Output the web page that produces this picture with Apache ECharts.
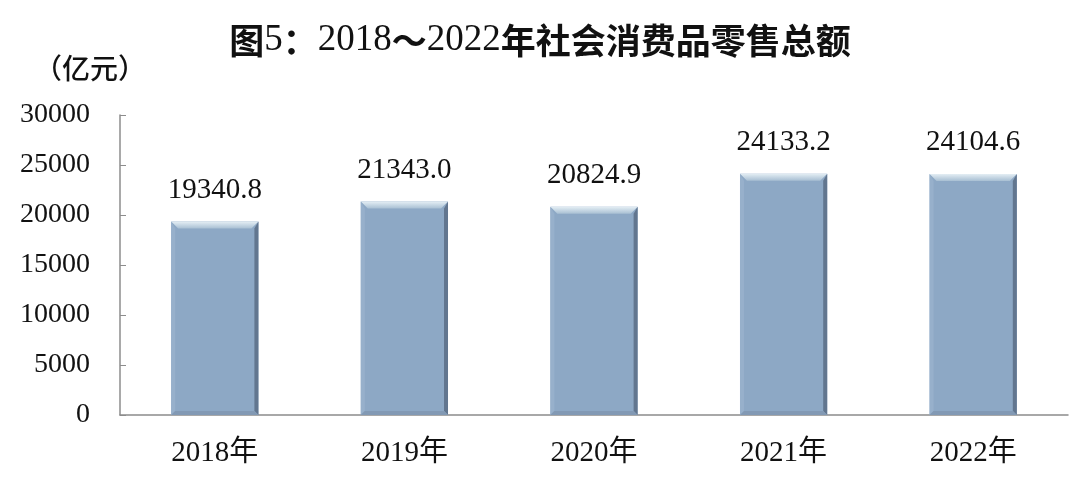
<!DOCTYPE html>
<html>
<head>
<meta charset="utf-8">
<script src="https://cdn.jsdelivr.net/npm/echarts@6/dist/echarts.min.js"></script>
<style>
  html, body { margin: 0; padding: 0; background: #fff; }
  #chart { width: 1080px; height: 496px; }
</style>
</head>
<body>
<div id="chart"></div>
<script>
// 年份和社会消费品零售总额（亿元）
var years = ['2018年', '2019年', '2020年', '2021年', '2022年'];
var sales = [19340.8, 21343.0, 20824.9, 24133.2, 24104.6];
var yTicks = [0, 5000, 10000, 15000, 20000, 25000, 30000];

var serif = "'Liberation Serif', 'Times New Roman', 'Noto Sans CJK SC', serif";
var cjk = "'Noto Sans CJK SC', sans-serif";

// 带斜面效果的柱子
function renderBar(params, api) {
    var top = api.coord([api.value(0), api.value(1)]);
    var base = api.coord([api.value(0), 0]);
    var w = api.size([1, 0])[0] * 0.46;
    var x0 = top[0] - w / 2, x1 = top[0] + w / 2;
    var y0 = top[1], y1 = base[1];
    var b = 7, s = 4;
    return {
        type: 'group',
        children: [
            {
                type: 'rect',
                shape: {x: x0, y: y0, width: w, height: y1 - y0},
                style: {fill: '#8da8c5'}
            },
            {   // 右侧暗边
                type: 'polygon',
                shape: {points: [[x1, y0], [x1, y1], [x1 - s, y1 - s], [x1 - s, y0 + b]]},
                style: {fill: '#62768f'}
            },
            {   // 左侧亮边
                type: 'polygon',
                shape: {points: [[x0, y0], [x0, y1], [x0 + s, y1 - s], [x0 + s, y0 + b]]},
                style: {fill: '#97b0cb'}
            },
            {   // 底部
                type: 'polygon',
                shape: {points: [[x0, y1], [x1, y1], [x1 - s, y1 - s], [x0 + s, y1 - s]]},
                style: {fill: '#8299b4'}
            },
            {   // 顶部斜面
                type: 'polygon',
                shape: {points: [[x0, y0], [x1, y0], [x1 - b, y0 + b], [x0 + b, y0 + b]]},
                style: {
                    fill: new echarts.graphic.LinearGradient(0, 0, 0, 1, [
                        {offset: 0, color: '#e4eef4'},
                        {offset: 1, color: '#a8bfd3'}
                    ])
                }
            },
            {
                type: 'text',
                style: {
                    text: api.value(1).toFixed(1),
                    x: top[0],
                    y: y0 - 17,
                    align: 'center',
                    verticalAlign: 'bottom',
                    font: '29px ' + serif,
                    fill: '#111'
                }
            }
        ]
    };
}

var chart = echarts.init(document.getElementById('chart'));
chart.setOption({
    backgroundColor: '#fff',
    animation: false,
    title: {
        text: '{c|图}{d|5}{c|：}{d|2018}{c|～}{d|2022}{c|年社会消费品零售总额}',
        left: 'center',
        top: 17,
        textStyle: {
            rich: {
                c: {fontSize: 35, fontWeight: 'bold', color: '#111', fontFamily: cjk},
                d: {fontSize: 37, fontWeight: 'normal', color: '#111', fontFamily: serif}
            }
        }
    },
    graphic: [{
        type: 'text',
        left: 34,
        top: 54,
        style: {text: '（亿元）', font: '500 28px ' + cjk, fill: '#111'}
    }],
    grid: {left: 120, right: 12, top: 115, bottom: 81},
    xAxis: {
        type: 'category',
        data: years,
        axisLine: {lineStyle: {color: '#8c8c8c', width: 1.5}},
        axisTick: {show: false},
        axisLabel: {margin: 24, fontSize: 29, color: '#111', fontFamily: serif}
    },
    yAxis: {
        type: 'value',
        min: yTicks[0],
        max: yTicks[yTicks.length - 1],
        interval: 5000,
        splitLine: {show: false},
        axisLine: {show: true, lineStyle: {color: '#8c8c8c', width: 1.5}},
        axisTick: {show: true, inside: true, length: 6, lineStyle: {color: '#8c8c8c'}},
        axisLabel: {
            margin: 30, fontSize: 28, color: '#111', fontFamily: serif,
            formatter: function (v) { return String(v); }
        }
    },
    series: [{
        type: 'custom',
        renderItem: renderBar,
        data: sales.map(function (v, i) { return [i, v]; }),
        encode: {x: 0, y: 1}
    }]
});
</script>
</body>
</html>
